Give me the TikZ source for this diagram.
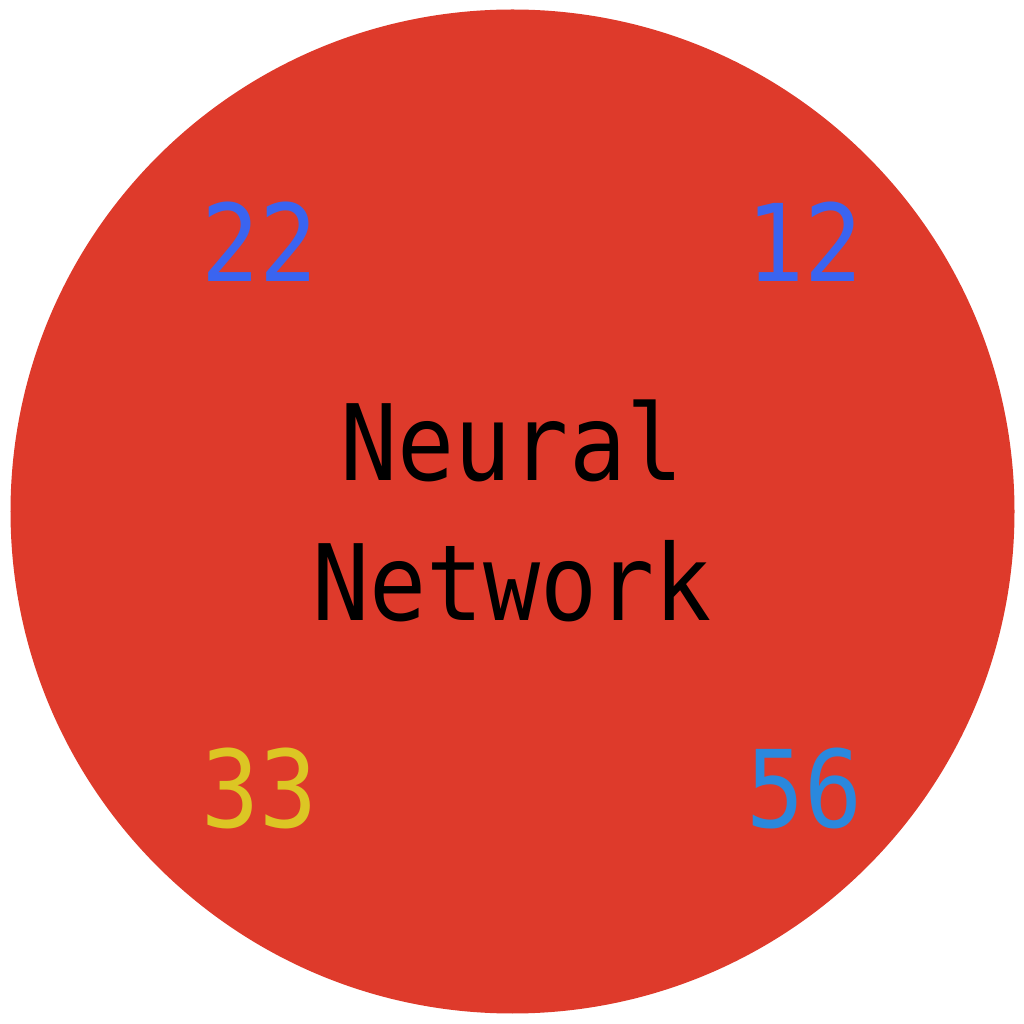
\documentclass[tikz,border=0pt]{standalone}
\usepackage{fontspec}
\newfontfamily\nnfont[FakeStretch=0.9]{DejaVu Sans Mono}
\definecolor{nnred}{HTML}{DE3A2B}
\definecolor{nnblue}{HTML}{3A64F0}
\definecolor{nnyellow}{HTML}{DCC624}
\definecolor{nnsky}{HTML}{2A88DD}
\tikzset{num/.style={font=\nnfont\fontsize{30.5}{36}\selectfont,inner sep=0pt}}
\begin{document}
\begin{tikzpicture}
\useasboundingbox (0,0) rectangle (10.24,10.24);
\fill[nnred] (5.125,5.125) circle (5.02);
\node[num,text=black,align=center,font=\nnfont\fontsize{30}{39.7}\selectfont] (nn) at (5.12,5.13) {Neural\\Network};
\node[num,text=nnblue] (v1) at (2.60,7.82) {22};
\node[num,text=nnblue] (v2) at (8.05,7.82) {12};
\node[num,text=nnyellow] (v3) at (2.60,2.36) {33};
\node[num,text=nnsky] (v4) at (8.05,2.36) {56};
\end{tikzpicture}
\end{document}
